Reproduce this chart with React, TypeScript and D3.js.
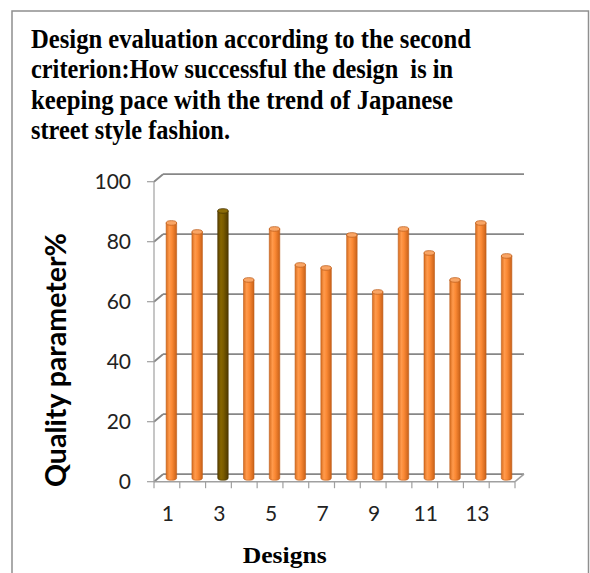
import React from "react";
import * as d3 from "d3";

// Chart data
const designs = ["1", "2", "3", "4", "5", "6", "7", "8", "9", "10", "11", "12", "13", "14"];
const quality = [85, 82, 89, 66, 83, 71, 70, 81, 62, 83, 75, 66, 85, 74];
const highlighted = ["3"];
const yTickValues = [0, 20, 40, 60, 80, 100];
const xTickLabels = ["1", "3", "5", "7", "9", "11", "13"];
const titleLines = [
  "Design evaluation according to the second",
  "criterion:How successful the design  is in",
  "keeping pace with the trend of Japanese",
  "street style fashion.",
];
const titleWidths = [440, 422, 422, 199];
const yAxisTitle = "Quality parameter%";
const xAxisTitle = "Designs";

const W = 590;
const H = 573;
// Plot frame (front plane) and the 3-D depth offset of the back wall
const plot = { left: 154, right: 515, bottom: 481.7, top: 181.7 };
const depth = { dx: 9, dy: -7.5 };

export default function App() {
  const x = d3.scaleBand<string>().domain(designs).range([plot.left, plot.right]).padding(0);
  const y = d3.scaleLinear().domain([0, 100]).range([plot.bottom, plot.top]);

  const barW = 10.5;
  const rx = barW / 2;
  const ry = 2.3;
  const gridColor = "#878787";
  const axisColor = "#a0a0a0";

  const barPath = (cx: number, top: number, bottom: number) => {
    const l = cx - rx;
    const r = cx + rx;
    return `M${l},${top} L${l},${bottom} A${rx},${ry} 0 0 0 ${r},${bottom} L${r},${top} Z`;
  };

  return (
    <svg
      width={W}
      height={H}
      viewBox={`0 0 ${W} ${H}`}
      style={{ position: "absolute", left: 0, top: 0, background: "#fff" }}
    >
      <defs>
        <linearGradient id="orangeBody" x1="0" x2="1" y1="0" y2="0">
          <stop offset="0%" stopColor="#d86d1f" />
          <stop offset="30%" stopColor="#ff9a4c" />
          <stop offset="55%" stopColor="#fb8934" />
          <stop offset="100%" stopColor="#c96118" />
        </linearGradient>
        <linearGradient id="darkBody" x1="0" x2="1" y1="0" y2="0">
          <stop offset="0%" stopColor="#5a4200" />
          <stop offset="30%" stopColor="#876600" />
          <stop offset="55%" stopColor="#7a5b00" />
          <stop offset="100%" stopColor="#4e3900" />
        </linearGradient>
      </defs>

      {/* outer frame */}
      <rect x={12} y={11} width={576.5} height={620} fill="none" stroke="#8f8f8f" strokeWidth={1.5} />

      {/* title */}
      <g fontFamily="'Liberation Serif', 'Times New Roman', serif" fontWeight="bold" fontSize={27} fill="#000">
        {titleLines.map((line, i) => (
          <text
            key={i}
            x={31}
            y={47.5 + i * 30.5}
            textLength={titleWidths[i]}
            lengthAdjust="spacingAndGlyphs"
            style={{ whiteSpace: "pre" }}
          >
            {line}
          </text>
        ))}
      </g>

      {/* gridlines on back wall and side wall */}
      <g stroke={gridColor} strokeWidth={1.8} fill="none">
        {yTickValues.map((v) => (
          <g key={v}>
            <line x1={plot.left + depth.dx} x2={plot.right + depth.dx} y1={y(v) + depth.dy} y2={y(v) + depth.dy} />
            <line x1={plot.left} x2={plot.left + depth.dx} y1={y(v)} y2={y(v) + depth.dy} />
          </g>
        ))}
      </g>

      {/* floor */}
      <g stroke={axisColor} strokeWidth={1.5} fill="none">
        <line x1={plot.left} x2={plot.right} y1={y(0)} y2={y(0)} />
        <line x1={plot.right} x2={plot.right + depth.dx} y1={y(0)} y2={y(0) + depth.dy} />
      </g>

      {/* y axis */}
      <g stroke={axisColor} strokeWidth={1.2}>
        <line x1={plot.left} x2={plot.left} y1={y(0)} y2={y(100)} />
        {yTickValues.map((v) => (
          <line key={v} x1={plot.left - 7} x2={plot.left} y1={y(v)} y2={y(v)} />
        ))}
      </g>
      <g fontFamily="Lato, 'Open Sans', sans-serif" fontSize={21} fill="#222" textAnchor="end">
        {yTickValues.map((v) => (
          <text key={v} x={131} y={y(v) + 7.5}>
            {v}
          </text>
        ))}
      </g>

      {/* x axis ticks */}
      <g stroke={axisColor} strokeWidth={1.2}>
        {designs.map((d) => (
          <line key={d} x1={x(d)!} x2={x(d)!} y1={y(0)} y2={y(0) + 6.5} />
        ))}
        <line x1={plot.right} x2={plot.right} y1={y(0)} y2={y(0) + 6.5} />
      </g>
      <g fontFamily="Lato, 'Open Sans', sans-serif" fontSize={21} fill="#222" textAnchor="middle">
        {xTickLabels.map((d) => (
          <text key={d} x={x(d)! + x.bandwidth() / 2 + 1} y={521}>
            {d}
          </text>
        ))}
      </g>

      {/* columns */}
      <g>
        {designs.map((d, i) => {
          const cx = x(d)! + x.bandwidth() / 2 + depth.dx / 2;
          const top = y(quality[i]) + depth.dy / 2;
          const bottom = y(0) + depth.dy / 2;
          const dark = highlighted.includes(d);
          return (
            <g key={d}>
              <path
                d={barPath(cx, top, bottom)}
                fill={dark ? "url(#darkBody)" : "url(#orangeBody)"}
                stroke={dark ? "#4a3600" : "#c0601c"}
                strokeWidth={0.6}
              />
              <ellipse
                cx={cx}
                cy={top}
                rx={rx}
                ry={ry}
                fill={dark ? "#8c6c08" : "#f9a565"}
                stroke={dark ? "#4a3600" : "#c0601c"}
                strokeWidth={0.8}
              />
            </g>
          );
        })}
      </g>

      {/* axis titles */}
      <text
        transform={`translate(66,360) rotate(-90)`}
        textAnchor="middle"
        fontFamily="Lato, 'Open Sans', sans-serif"
        fontWeight="bold"
        fontSize={28}
        fill="#000"
        textLength={254}
        lengthAdjust="spacingAndGlyphs"
      >
        {yAxisTitle}
      </text>
      <text
        x={284.7}
        y={563}
        textAnchor="middle"
        fontFamily="'Liberation Serif', 'Times New Roman', serif"
        fontWeight="bold"
        fontSize={22.5}
        fill="#000"
        textLength={84}
        lengthAdjust="spacingAndGlyphs"
      >
        {xAxisTitle}
      </text>
    </svg>
  );
}
